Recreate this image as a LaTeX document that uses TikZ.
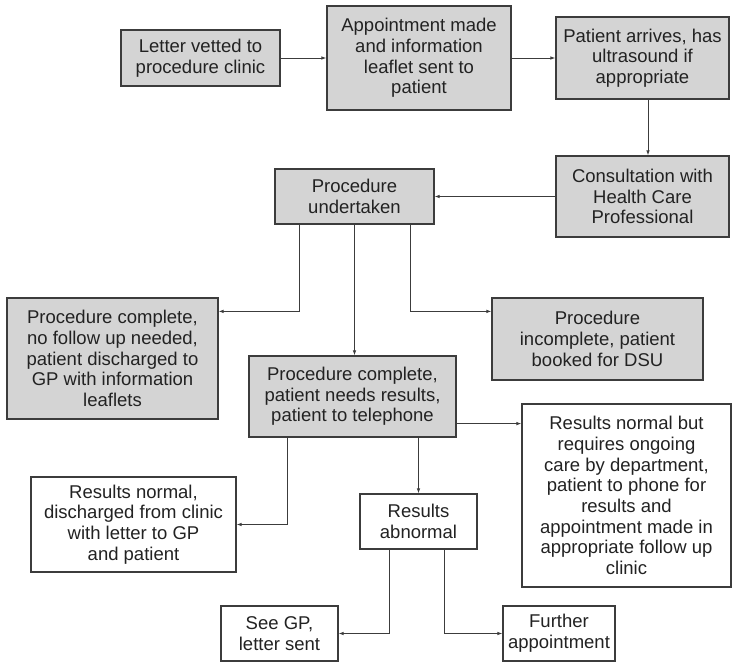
\documentclass[tikz,border=0pt]{standalone}
\usepackage{fontspec}
\setmainfont{Liberation Sans}
\usetikzlibrary{calc,arrows.meta}
\definecolor{inkgray}{HTML}{222222}
\definecolor{boxfill}{HTML}{D4D4D4}
\definecolor{edgegray}{HTML}{3C3C3C}
\tikzset{
  basebox/.style={draw=edgegray, line width=1.2pt, inner sep=0pt, align=center,
    text=inkgray, font=\fontsize{18.5}{20.7}\selectfont},
  shaded/.style={basebox, fill=boxfill},
  plain/.style={basebox, fill=white},
  link/.style={draw=edgegray, line width=0.9pt, -{Latex[length=5pt,width=3.6pt]}},
}
\begin{document}
\begin{tikzpicture}[x=1pt,y=-1pt]
\useasboundingbox (0,0) rectangle (732,663);

% first row
\node[shaded, minimum width=159pt, minimum height=56pt] (letter) at (200.5,58)
  {Letter vetted to\\procedure clinic};
\node[shaded, minimum width=184pt, minimum height=104pt] (appt) at (419,58)
  {Appointment made\\and information\\leaflet sent to\\patient};
\node[shaded, minimum width=173pt, minimum height=82pt] (arrive) at (642.5,58)
  {Patient arrives, has\\ultrasound if\\appropriate};

% second row
\node[shaded, minimum width=173pt, minimum height=81pt] (consult) at (642.5,196.5)
  {Consultation with\\Health Care\\Professional};
\node[shaded, minimum width=159pt, minimum height=55pt] (proc) at (354.5,196.5)
  {Procedure\\undertaken};

% outcomes of the procedure
\node[shaded, minimum width=211pt, minimum height=121pt] (nofollow) at (112.5,358.5)
  {Procedure complete,\\no follow up needed,\\patient discharged to\\GP with information\\leaflets};
\node[shaded, minimum width=211pt, minimum height=82pt] (incomplete) at (597.5,339)
  {Procedure\\incomplete, patient\\booked for DSU};
\node[shaded, minimum width=207pt, minimum height=81pt] (results) at (352.5,396.5)
  {Procedure complete,\\patient needs results,\\patient to telephone};

% results branches
\node[plain, minimum width=209pt, minimum height=183pt] (ongoing) at (626.5,495.5)
  {Results normal but\\requires ongoing\\care by department,\\patient to phone for\\results and\\appointment made in\\appropriate follow up\\clinic};
\node[plain, minimum width=205pt, minimum height=95pt] (normal) at (133.5,524.5)
  {Results normal,\\discharged from clinic\\with letter to GP\\and patient};
\node[plain, minimum width=117pt, minimum height=55pt] (abnormal) at (418.5,521.5)
  {Results\\abnormal};
\node[plain, minimum width=117pt, minimum height=55pt] (seegp) at (279.5,633.5)
  {See GP,\\letter sent};
\node[plain, minimum width=112pt, minimum height=55pt] (further) at (559,633.5)
  {Further\\appointment};

% connectors
\draw[link] (letter.east) -- (appt.west);
\draw[link] (appt.east) -- (arrive.west);
\draw[link] ($(arrive.south)+(5.5,0)$) -- ($(consult.north)+(5.5,0)$);
\draw[link] (consult.west) -- (proc.east);

\draw[link] ($(proc.south west)+(25,0)$) |- ($(nofollow.north east)+(0,14)$);
\draw[link] (proc.south) -- (proc.south |- results.north);
\draw[link] ($(proc.south east)+(-24,0)$) |- ($(incomplete.north west)+(0,14)$);

\coordinate (resright) at ($(results.south east)+(0,-14)$);
\draw[link] (resright) -- (resright -| ongoing.west);
\draw[link] ($(results.south west)+(39,0)$) |- (normal.east);
\draw[link] (abnormal.north |- results.south) -- (abnormal.north);

\draw[link] ($(abnormal.south west)+(30,0)$) |- (seegp.east);
\draw[link] ($(abnormal.south east)+(-33,0)$) |- (further.west);
\end{tikzpicture}
\end{document}
